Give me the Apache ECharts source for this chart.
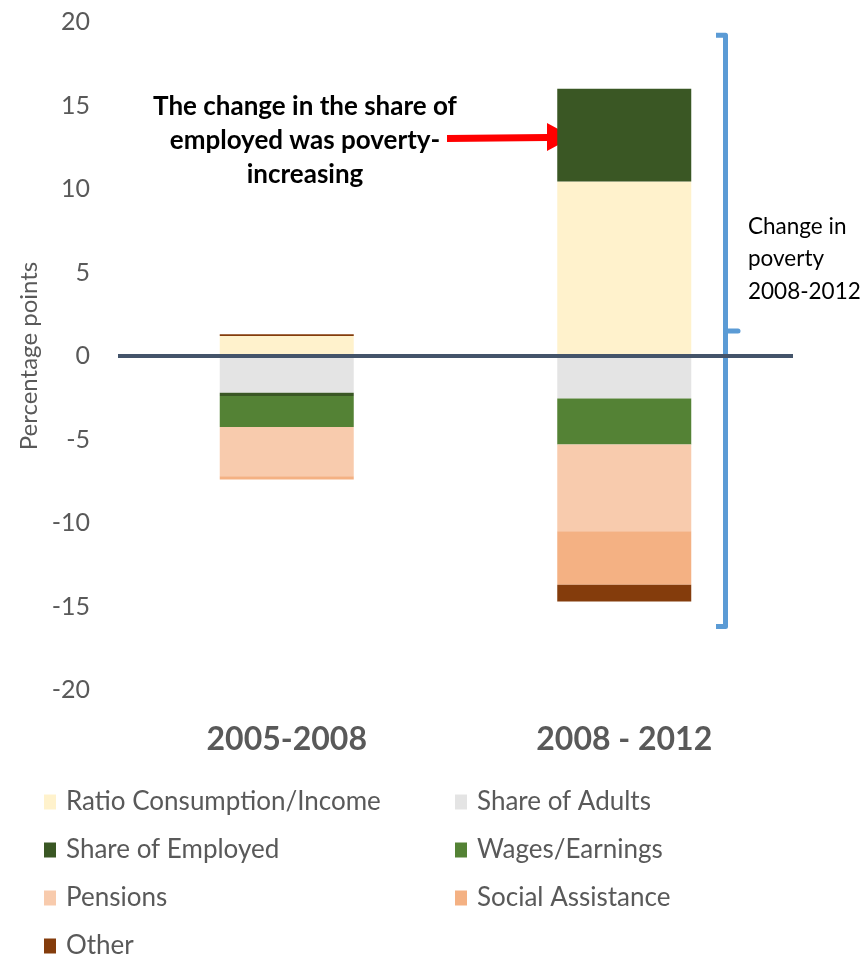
<!DOCTYPE html>
<html>
<head>
<meta charset="utf-8">
<script src="https://cdn.jsdelivr.net/npm/echarts@6/dist/echarts.min.js"></script>
<style>html,body{margin:0;padding:0;background:#fff;}#c{width:865px;height:958px;}</style>
</head>
<body>
<div id="c"></div>
<script>
const categories = ['2005-2008', '2008 - 2012'];
const ratioConsumption = [1.2, 10.45];
const shareAdults = [-2.2, -2.55];
const shareEmployed = [-0.2, 5.55];
const wagesEarnings = [-1.85, -2.75];
const pensions = [-2.95, -5.2];
const socialAssistance = [-0.2, -3.2];
const other = [0.1, -1.0];
const yTicks = { min: -20, max: 20, interval: 5 };

const FONT = 'Lato';
const seriesDefs = [
  ['Ratio Consumption/Income', ratioConsumption, '#FFF2CC'],
  ['Share of Adults', shareAdults, '#E4E4E4'],
  ['Share of Employed', shareEmployed, '#3A5724'],
  ['Wages/Earnings', wagesEarnings, '#548235'],
  ['Pensions', pensions, '#F8CBAD'],
  ['Social Assistance', socialAssistance, '#F4B183'],
  ['Other', other, '#843C0C']
];

const series = seriesDefs.map(([name, data, color], i) => {
  const s = {
    name, type: 'bar', stack: 'total', data, barWidth: 134,
    itemStyle: { color }, emphasis: { disabled: true }
  };
  if (i === seriesDefs.length - 1) {
    s.markLine = {
      silent: true, symbol: 'none', label: { show: false },
      lineStyle: { color: '#44546A', width: 4, type: 'solid' },
      data: [{ yAxis: 0 }], z: 10
    };
  }
  return s;
});

const legendText = { fontSize: 26, color: '#595959', fontFamily: FONT, padding: [0, 0, 0, 5] };
const col1 = [seriesDefs[0][0], seriesDefs[2][0], seriesDefs[4][0], seriesDefs[6][0]];
const col2 = [seriesDefs[1][0], seriesDefs[3][0], seriesDefs[5][0]];
const legendBase = { orient: 'vertical', top: 789, height: 200, padding: 0, icon: 'rect', itemWidth: 12, itemHeight: 15, itemGap: 22, textStyle: legendText, selectedMode: false };

const chart = echarts.init(document.getElementById('c'), null, { renderer: 'canvas' });
chart.setOption({
  animation: false,
  textStyle: { fontFamily: FONT },
  grid: { left: 118, right: 72, top: 22, bottom: 268, containLabel: false },
  legend: [
    Object.assign({ data: col1, left: 44 }, legendBase),
    Object.assign({ data: col2, left: 455 }, legendBase)
  ],
  xAxis: {
    type: 'category', data: categories,
    axisLine: { show: false, onZero: false }, axisTick: { show: false },
    axisLabel: { fontSize: 32, fontWeight: 'bold', color: '#595959', margin: 34, fontFamily: FONT }
  },
  yAxis: {
    type: 'value', min: yTicks.min, max: yTicks.max, interval: yTicks.interval,
    splitLine: { show: false }, axisLine: { show: false }, axisTick: { show: false },
    axisLabel: { fontSize: 25, color: '#595959', margin: 28, fontFamily: FONT },
    name: 'Percentage points', nameLocation: 'middle', nameGap: 76,
    nameTextStyle: { fontSize: 24, color: '#595959', fontFamily: FONT }
  },
  series
});

function drawAnnotations() {
  const px = (x, y) => chart.convertToPixel({ gridIndex: 0 }, [x, y]);
  const xTop = px(1, 19.2), xMid = px(1, 1.5), xBot = px(1, -16.2);
  const bx = 725.5;
  const blue = '#5B9BD5';
  const arrowY = px(1, 13)[1];
  chart.setOption({
    graphic: [
      {
        type: 'polyline', silent: true,
        shape: { points: [[716, xTop[1]], [bx, xTop[1]], [bx, xBot[1]], [716, xBot[1]]] },
        style: { stroke: blue, lineWidth: 5, fill: null, lineJoin: 'round' }
      },
      {
        type: 'line', silent: true,
        shape: { x1: bx, y1: xMid[1], x2: 738, y2: xMid[1] },
        style: { stroke: blue, lineWidth: 5, lineCap: 'round' }
      },
      {
        type: 'text', silent: true, left: 748, top: 210,
        style: { text: 'Change in\npoverty\n2008-2012', fontSize: 22.5, lineHeight: 32.5, fill: '#000', fontFamily: FONT }
      },
      {
        type: 'text', silent: true, x: 305, y: 90,
        style: {
          text: 'The change in the share of\nemployed was poverty-\nincreasing',
          fontSize: 26, fontWeight: 'bold', lineHeight: 34, fill: '#000', align: 'center', fontFamily: FONT
        }
      },
      {
        type: 'polygon', silent: true,
        shape: { points: [[447, arrowY + 3], [547, arrowY + 2], [547, arrowY + 12], [573, arrowY - 2], [547, arrowY - 16], [547, arrowY - 5], [447, arrowY - 4]] },
        style: { fill: '#FF0000' }
      }
    ]
  });
}
drawAnnotations();
</script>
</body>
</html>
